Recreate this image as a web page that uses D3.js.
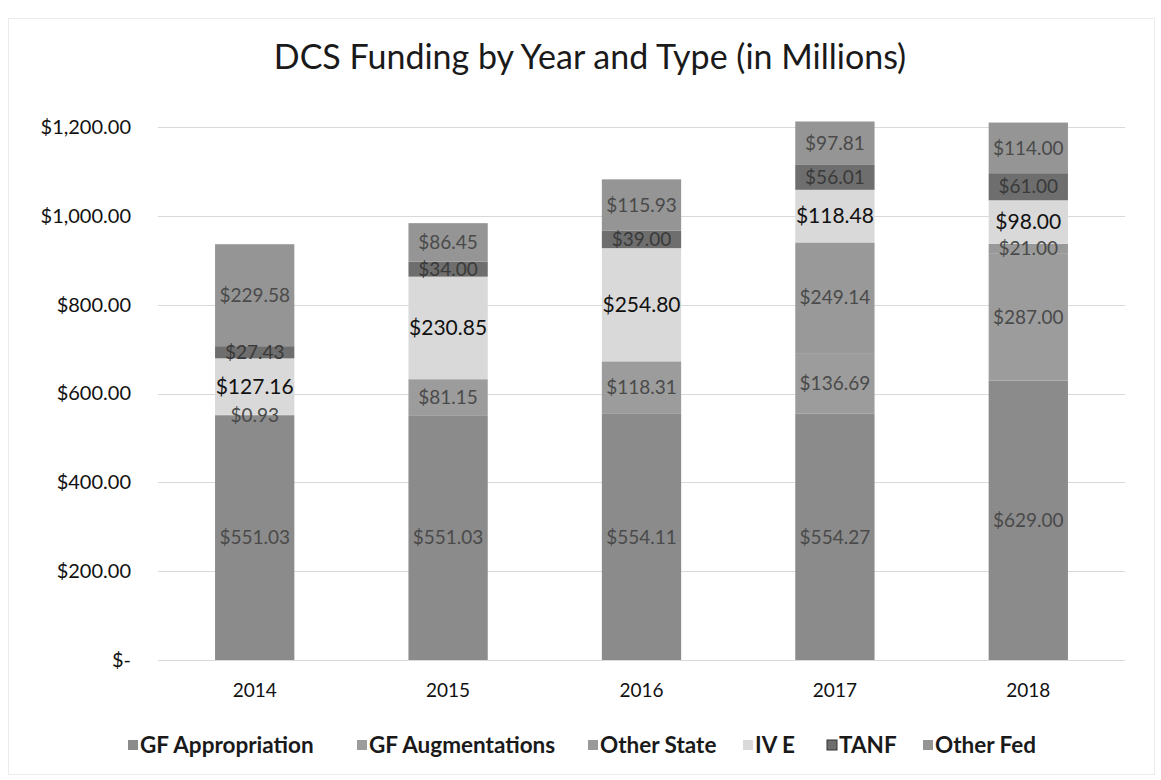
<!DOCTYPE html>
<html>
<head>
<meta charset="utf-8">
<script src="https://cdn.jsdelivr.net/npm/d3@7"></script>
<style>
  html, body { margin: 0; padding: 0; background: #fff; }
  svg { display: block; font-family: Lato, "Open Sans", sans-serif; }
</style>
</head>
<body>
<svg id="chart" width="1161" height="780"></svg>
<script>
// Funding by year, in millions of dollars
const years = ["2014", "2015", "2016", "2017", "2018"];
const seriesNames = ["GF Appropriation", "GF Augmentations", "Other State", "IV E", "TANF", "Other Fed"];
const gfAppropriation = [551.03, 551.03, 554.11, 554.27, 629.00];
const gfAugmentations = [0.93, 81.15, 118.31, 136.69, 287.00];
const otherState      = [0, 0, 0, 249.14, 21.00];
const ivE             = [127.16, 230.85, 254.80, 118.48, 98.00];
const tanf            = [27.43, 34.00, 39.00, 56.01, 61.00];
const otherFed        = [229.58, 86.45, 115.93, 97.81, 114.00];
const yTicks = [0, 200, 400, 600, 800, 1000, 1200];

const seriesValues = [gfAppropriation, gfAugmentations, otherState, ivE, tanf, otherFed];
const fills = ["#8b8b8b", "#9c9c9c", "#999999", "#d9d9d9", "#6e6e6e", "#959595"];
const labelColors = ["#4a4a4a", "#4a4a4a", "#4a4a4a", "#111", "#3a3a3a", "#4a4a4a"];

const rows = years.map((y, i) => {
  const r = { year: y };
  seriesNames.forEach((s, k) => { r[s] = seriesValues[k][i]; });
  return r;
});
const stacked = d3.stack().keys(seriesNames)(rows);

const svg = d3.select("#chart");

// chart frame
svg.append("rect")
  .attr("x", 8.5).attr("y", 18.5).attr("width", 1146).attr("height", 756)
  .attr("fill", "none").attr("stroke", "#ebebeb");

svg.append("text")
  .attr("x", 590).attr("y", 69)
  .attr("text-anchor", "middle")
  .attr("font-size", 34).attr("fill", "#1a1a1a")
  .text("DCS Funding by Year and Type (in Millions)");

const x = d3.scaleBand().domain(years).range([158, 1125]).paddingInner(0.59).paddingOuter(0.295);
const y = d3.scaleLinear().domain([0, 1200]).range([660, 127]);

// gridlines
svg.append("g")
  .selectAll("line").data(yTicks).join("line")
  .attr("x1", 158).attr("x2", 1125)
  .attr("y1", d => Math.round(y(d)) + 0.5).attr("y2", d => Math.round(y(d)) + 0.5)
  .attr("stroke", "#d9d9d9");

// y axis labels
const yFmt = d => d === 0 ? "$-" : "$" + d3.format(",.2f")(d);
const yAxis = svg.append("g")
  .attr("transform", "translate(131,0)")
  .call(d3.axisLeft(y).tickValues(yTicks).tickFormat(yFmt).tickSize(0).tickPadding(0));
yAxis.select(".domain").remove();
yAxis.selectAll("text")
  .attr("font-family", "Lato, sans-serif").attr("font-size", 20).attr("fill", "#111");

// x axis labels
const xAxis = svg.append("g")
  .attr("transform", "translate(0,679)")
  .call(d3.axisBottom(x).tickSize(0).tickPadding(4));
xAxis.select(".domain").remove();
xAxis.selectAll("text")
  .attr("font-family", "Lato, sans-serif").attr("font-size", 19).attr("fill", "#111");

// stacked bars
const layers = svg.append("g").selectAll("g").data(stacked).join("g")
  .attr("fill", (d, i) => fills[i]);
layers.selectAll("rect").data(d => d).join("rect")
  .attr("x", d => x(d.data.year))
  .attr("width", x.bandwidth())
  .attr("y", d => y(d[1]))
  .attr("height", d => y(d[0]) - y(d[1]));

// value labels
const lbl = svg.append("g").attr("text-anchor", "middle");
stacked.forEach((layer, k) => {
  layer.forEach(d => {
    const v = d[1] - d[0];
    if (!v) return;
    lbl.append("text")
      .attr("x", x(d.data.year) + x.bandwidth() / 2)
      .attr("y", (y(d[0]) + y(d[1])) / 2)
      .attr("dy", "0.35em")
      .attr("font-size", k === 3 ? 21 : 19)
      .attr("fill", labelColors[k])
      .text("$" + d3.format(",.2f")(v));
  });
});

// legend
const legendX = [128, 357, 588, 743, 827, 923];
const legend = svg.append("g").selectAll("g").data(seriesNames).join("g")
  .attr("transform", (d, i) => `translate(${legendX[i]},745)`);
legend.append("rect")
  .attr("x", 0).attr("y", -5).attr("width", 10).attr("height", 10)
  .attr("fill", (d, i) => fills[i]).attr("stroke", (d, i) => i === 4 ? "#333" : "none");
legend.append("text")
  .attr("x", 12).attr("dy", "0.35em")
  .attr("font-size", 22.5).attr("font-weight", 700).attr("fill", "#1a1a1a")
  .text(d => d);
</script>
</body>
</html>
